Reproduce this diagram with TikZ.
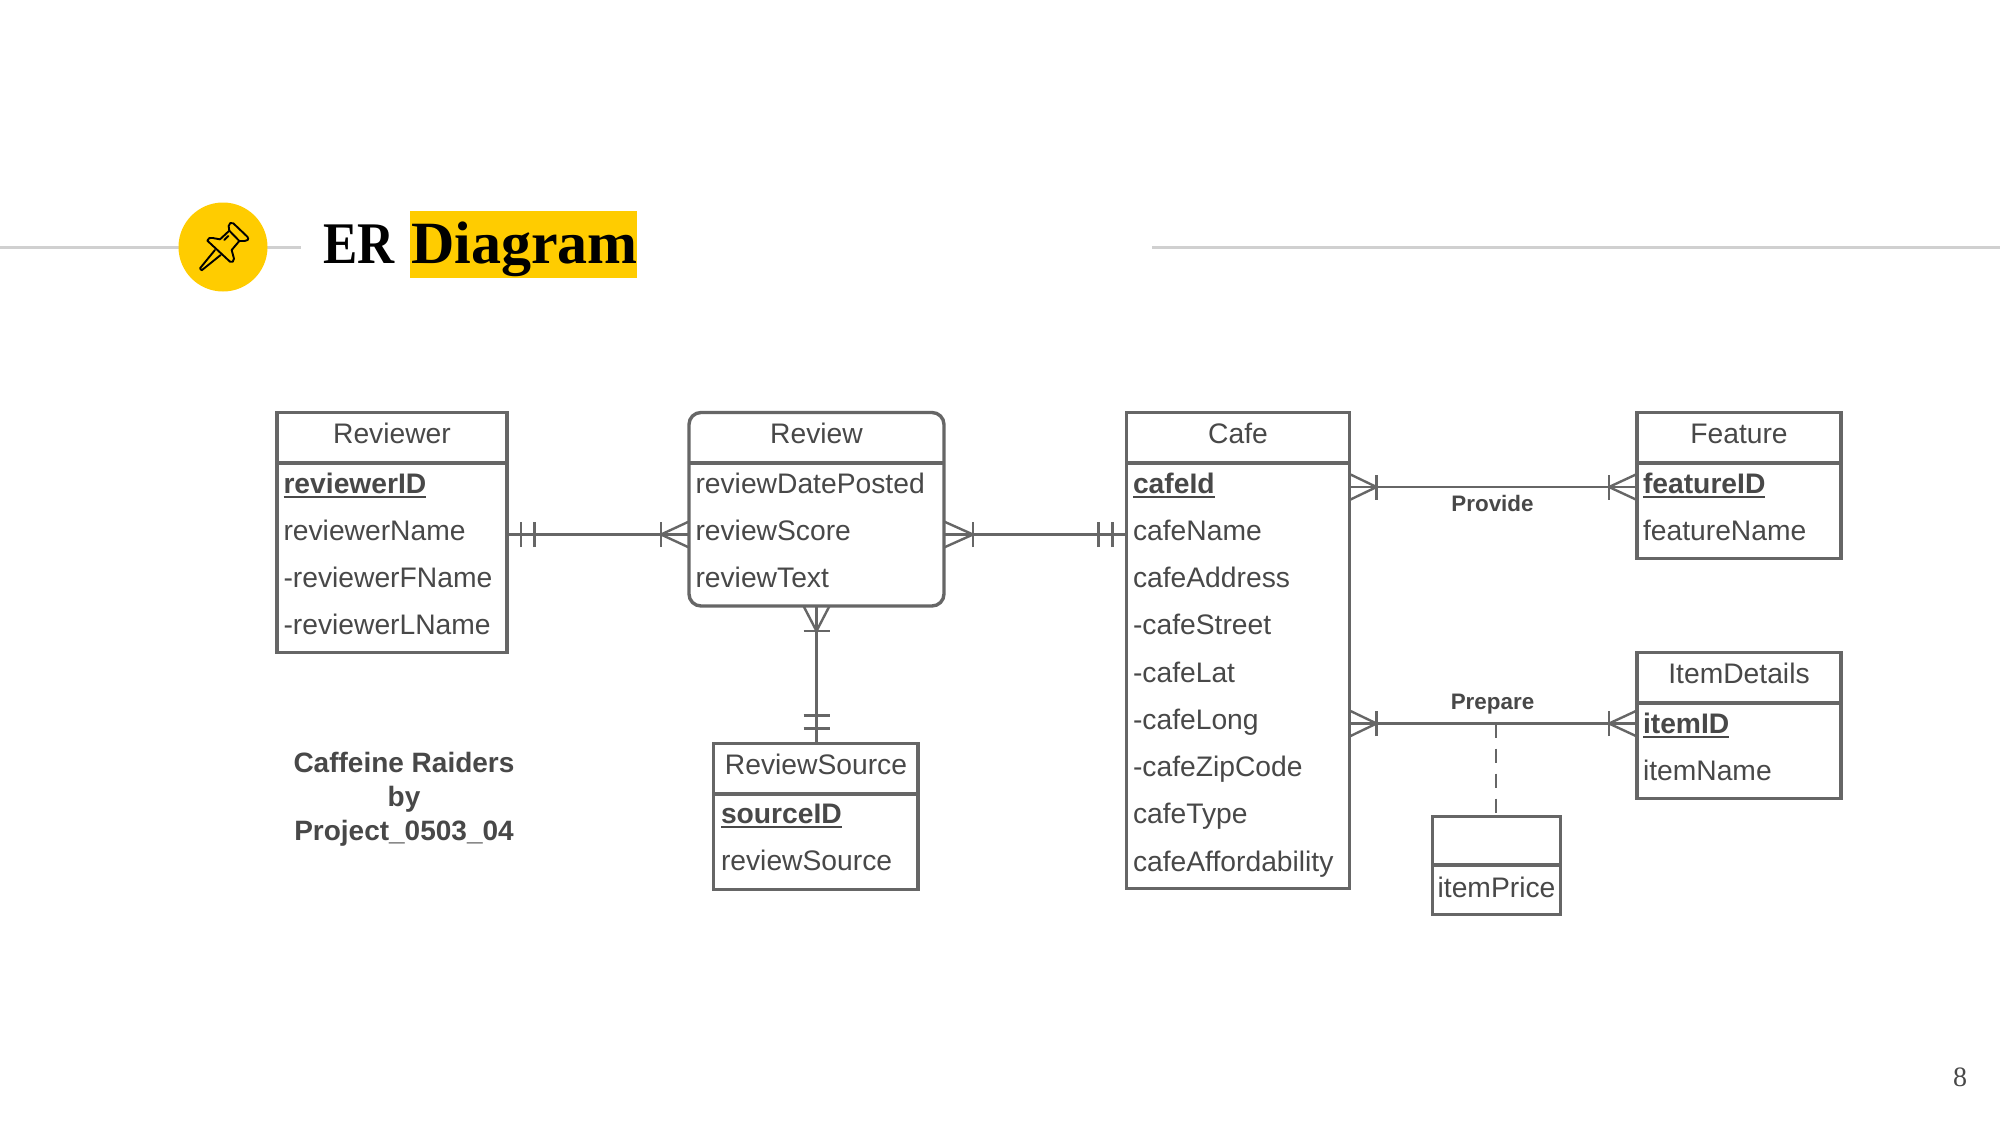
\documentclass[tikz,border=0pt]{standalone}
\usepackage{fontspec}
\setmainfont{Liberation Sans}
\newfontfamily\titlefont{Liberation Serif}
\usetikzlibrary{calc}
\definecolor{inkline}{HTML}{666666}
\definecolor{inktext}{HTML}{484848}
\definecolor{pinyellow}{HTML}{FFCC00}
\definecolor{rulegray}{HTML}{D0D0D0}
\newcommand{\keyattr}[1]{\setbox0=\hbox{\bfseries #1}\rlap{\copy0}\raisebox{-4.5pt}{\rule{\wd0}{2pt}}}
\newcommand{\attrfs}{\fontsize{28.25}{34}\selectfont}
\tikzset{
  x=1pt, y=-1pt,
  ebox/.style={draw=inkline, line width=3.4pt, rectangle, inner sep=0pt, outer sep=0pt, anchor=north west},
  divider/.style={draw=inkline, line width=3.4pt},
  attr/.style={anchor=base west, inner sep=0pt, outer sep=0pt, text=inktext, font=\attrfs, yshift=-0.7pt},
  head/.style={anchor=base, inner sep=0pt, outer sep=0pt, text=inktext, font=\attrfs, yshift=-0.7pt},
  conn/.style={draw=inkline, line width=2.4pt},
  rellabel/.style={anchor=base, inner sep=0pt, text=inktext, font=\fontsize{22.4}{26}\selectfont\bfseries},
}
\newcommand{\barsH}[2]{\draw[conn] ([xshift=#2pt,yshift=-12.5pt]#1) -- ([xshift=#2pt,yshift=12.5pt]#1);}
\newcommand{\barsV}[2]{\draw[conn] ([yshift=#2pt,xshift=-13pt]#1) -- ([yshift=#2pt,xshift=13pt]#1);}
% crow's foot: #1 edge point on the box, #2 signed distance to the apex
\newcommand{\footH}[2]{\draw[conn] ([yshift=-13pt]#1) -- ([xshift=#2pt]#1) -- ([yshift=13pt]#1);\barsH{#1}{#2}}
\begin{document}
\begin{tikzpicture}
\useasboundingbox (0,0) rectangle (2000,1125);
\fill[white] (0,0) rectangle (2000,1125);

% header band
\draw[rulegray, line width=2.4pt] (0,247.5) -- (301,247.5);
\draw[rulegray, line width=2.4pt] (1152,247.5) -- (2000,247.5);
\node[circle, fill=pinyellow, minimum size=89pt, inner sep=0pt] (badge) at (223,247) {};
\begin{scope}[shift={(170,200)}, x=0.3333pt, y=-0.3333pt, line width=1.9pt, line join=round, line cap=round, black]
  \draw (112,122) .. controls (114,114) and (120,112) .. (128,114) -- (150,118) -- (178,92)
        -- (176,78) .. controls (176,70) and (184,65) .. (190,70) -- (232,110)
        .. controls (238,118) and (232,124) .. (224,123) -- (208,123) -- (185,150) -- (192,176)
        .. controls (192,184) and (186,190) .. (180,185) -- cycle;
  \draw (135,150) -- (90,205) -- (95,211) -- (152,165);
  \draw (163,120) -- (175,108);
  \draw (178,92) -- (208,123);
\end{scope}
\fill[pinyellow] (410,210.5) rectangle (636.5,278);
\node[anchor=base west, inner sep=0pt, xscale=0.87, font=\titlefont\fontsize{59}{66}\selectfont\bfseries] (titleA) at (323,263) {ER};
\node[anchor=base west, inner sep=0pt, font=\titlefont\fontsize{60}{66}\selectfont\bfseries] (titleB) at (411,263) {Diagram};
\node[anchor=base, inner sep=0pt, text=inktext, font=\titlefont\fontsize{28}{32}\selectfont] (pageno) at (1960,1086) {8};

% entities
\node[ebox, minimum width=230pt, minimum height=240pt] (reviewer) at (277,412.5) {};
\draw[divider] (277,463) -- (507,463);
\node[head] (h1) at (392,442.7) {Reviewer};
\node[attr] (a11) at (283.5,492.7) {\keyattr{reviewerID}};
\node[attr] (a12) at (283.5,539.9) {reviewerName};
\node[attr] (a13) at (283.5,587.1) {-reviewerFName};
\node[attr] (a14) at (283.5,634.1) {-reviewerLName};

\node[ebox, rounded corners=12pt, minimum width=255pt, minimum height=193.5pt] (review) at (689,412.5) {};
\draw[divider] (689,463) -- (944,463);
\node[head] (h2) at (816.5,443) {Review};
\node[attr] (a21) at (695.5,492.7) {reviewDatePosted};
\node[attr] (a22) at (695.5,539.9) {reviewScore};
\node[attr] (a23) at (695.5,587.1) {reviewText};

\node[ebox, minimum width=223pt, minimum height=476pt] (cafe) at (1126.5,412.5) {};
\draw[divider] (1126.5,463) -- (1349.5,463);
\node[head] (h3) at (1238,443) {Cafe};
\node[attr] (a31) at (1133,492.7) {\keyattr{cafeId}};
\node[attr] (a32) at (1133,539.9) {cafeName};
\node[attr] (a33) at (1133,587.1) {cafeAddress};
\node[attr] (a34) at (1133,634.1) {-cafeStreet};
\node[attr] (a35) at (1133,681.5) {-cafeLat};
\node[attr] (a36) at (1133,728.7) {-cafeLong};
\node[attr] (a37) at (1133,775.9) {-cafeZipCode};
\node[attr] (a38) at (1133,823.1) {cafeType};
\node[attr] (a39) at (1133,870.3) {cafeAffordability};

\node[ebox, minimum width=204pt, minimum height=146pt] (feature) at (1637,412.5) {};
\draw[divider] (1637,463) -- (1841,463);
\node[head] (h4) at (1739,443) {Feature};
\node[attr] (a41) at (1643,492.7) {\keyattr{featureID}};
\node[attr] (a42) at (1643,539.9) {featureName};

\node[ebox, minimum width=204pt, minimum height=146pt] (items) at (1637,652.5) {};
\draw[divider] (1637,703) -- (1841,703);
\node[head] (h5) at (1739,683) {ItemDetails};
\node[attr] (a51) at (1643,732.4) {\keyattr{itemID}};
\node[attr] (a52) at (1643,779.5) {itemName};

\node[ebox, minimum width=204.5pt, minimum height=146pt] (source) at (713.5,743.5) {};
\draw[divider] (713.5,794) -- (918,794);
\node[head] (h6) at (816,774.2) {ReviewSource};
\node[attr] (a61) at (721,823) {\keyattr{sourceID}};
\node[attr] (a62) at (721,870) {reviewSource};

\node[ebox, minimum width=128pt, minimum height=98pt] (assoc) at (1432.5,816.5) {};
\draw[divider] (1432.5,865) -- (1560.5,865);
\node[head] (a71) at (1496.5,897) {itemPrice};

% free text
\node[anchor=base, inner sep=0pt, text=inktext, font=\fontsize{28}{34}\selectfont\bfseries] (credit1) at (404,772) {Caffeine Raiders};
\node[anchor=base, inner sep=0pt, text=inktext, font=\fontsize{28}{34}\selectfont\bfseries] (credit2) at (404,806) {by};
\node[anchor=base, inner sep=0pt, text=inktext, font=\fontsize{28}{34}\selectfont\bfseries] (credit3) at (404,840) {Project\_0503\_04};
\node[rellabel] (provide) at (1492.5,511) {Provide};
\node[rellabel] (prepare) at (1492.5,709) {Prepare};

% connector end points on the box edges
\coordinate (c1a) at (reviewer.east |- 0,534.5);
\coordinate (c1b) at (review.west |- 0,534.5);
\coordinate (c2a) at (review.east |- 0,534.5);
\coordinate (c2b) at (cafe.west |- 0,534.5);
\coordinate (c3a) at (cafe.east |- 0,487);
\coordinate (c3b) at (feature.west |- 0,487);
\coordinate (c4a) at (cafe.east |- 0,723.5);
\coordinate (c4b) at (items.west |- 0,723.5);
\coordinate (c5a) at (review.south);
\coordinate (c5b) at (review.south |- source.north);
\coordinate (c6a) at (assoc.north -| 1496,0);
\coordinate (c6b) at (1496,723.5);

% connectors
\draw[conn] (c1a) -- (c1b);
\barsH{c1a}{14}\barsH{c1a}{27.5}
\footH{c1b}{-28}

\draw[conn] (c2a) -- (c2b);
\footH{c2a}{29}
\barsH{c2b}{-28}\barsH{c2b}{-14}

\draw[conn] (c3a) -- (c3b);
\footH{c3a}{27}
\footH{c3b}{-28}

\draw[conn] (c4a) -- (c4b);
\footH{c4a}{27}
\footH{c4b}{-28}

\draw[conn] (c5a) -- (c5b);
\draw[conn] ([xshift=-13pt]c5a) -- ([yshift=-25pt]c5a) -- ([xshift=13pt]c5a);
\barsV{c5a}{-25}
\barsV{c5b}{15}\barsV{c5b}{28}

\draw[conn, dash pattern=on 14pt off 11pt] (c6b) -- (c6a);
\end{tikzpicture}
\end{document}
